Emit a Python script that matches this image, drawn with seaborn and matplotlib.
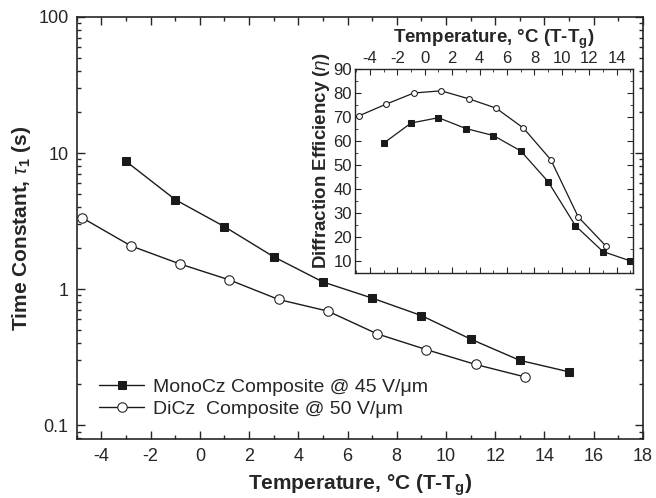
import matplotlib
matplotlib.use("Agg")
import matplotlib.pyplot as plt
import seaborn as sns
from matplotlib.ticker import MultipleLocator, LogLocator, FixedLocator, NullFormatter

# --- data ---
mono_t = [-3, -1, 1, 3, 5, 7, 9, 11, 13, 15]
mono_tau = [8.7, 4.55, 2.88, 1.73, 1.13, 0.86, 0.64, 0.43, 0.30, 0.247]
di_t = [-4.8, -2.8, -0.8, 1.2, 3.2, 5.2, 7.2, 9.2, 11.2, 13.2]
di_tau = [3.36, 2.08, 1.53, 1.17, 0.84, 0.69, 0.47, 0.36, 0.28, 0.227]

mono_eta_t = [-3, -1, 1, 3, 5, 7, 9, 11, 13, 15]
mono_eta = [59.0, 67.4, 69.6, 65.1, 62.2, 55.8, 43.0, 24.6, 13.9, 10.0]
di_eta_t = [-4.8, -2.8, -0.8, 1.2, 3.2, 5.2, 7.2, 9.2, 11.2, 13.2]
di_eta = [70.4, 75.3, 79.9, 80.8, 77.5, 73.6, 65.3, 52.1, 28.3, 16.3]

labels = ["MonoCz Composite @ 45 V/\u03bcm", "DiCz  Composite @ 50 V/\u03bcm"]

sns.set_style("ticks")
plt.rcParams["font.family"] = ["Liberation Sans", "DejaVu Sans"]
plt.rcParams["mathtext.fontset"] = "custom"
plt.rcParams["mathtext.rm"] = "Liberation Sans"
plt.rcParams["mathtext.it"] = "Liberation Sans:italic"
plt.rcParams["mathtext.bf"] = "Liberation Sans:bold"
plt.rcParams["axes.unicode_minus"] = False

fig = plt.figure(figsize=(6.56, 4.98), dpi=100)
ax = fig.add_axes([0.117, 0.118, 0.863, 0.848])

sq = dict(marker="s", markersize=6.3, markerfacecolor="#1a1a1a", markeredgecolor="#1a1a1a")
ci = dict(marker="o", markersize=6.8, markerfacecolor="white", markeredgecolor="#1a1a1a")

sns.lineplot(x=mono_t, y=mono_tau, ax=ax, color="#1a1a1a", lw=1, sort=False,
             label=labels[0], **sq)
sns.lineplot(x=di_t, y=di_tau, ax=ax, color="#1a1a1a", lw=1, sort=False,
             label=labels[1], **ci)

ax.set_yscale("log")
ax.set_xlim(-5, 18)
ax.set_ylim(0.079, 100)
ax.xaxis.set_major_locator(MultipleLocator(2))
ax.xaxis.set_minor_locator(MultipleLocator(1))
ax.yaxis.set_major_locator(FixedLocator([0.1, 1, 10, 100]))
ax.set_yticklabels(["0.1", "1", "10", "100"])
ax.yaxis.set_minor_locator(LogLocator(base=10, subs=range(2, 10)))
ax.yaxis.set_minor_formatter(NullFormatter())
ax.tick_params(which="both", direction="in", top=True, right=True, labelsize=13, width=1)
ax.tick_params(which="major", length=6, pad=6)
ax.tick_params(which="minor", length=3)
for s in ax.spines.values():
    s.set_linewidth(1.2)

ax.set_xlabel(r"Temperature, °C (T-T$_\mathbf{g}$)", fontsize=15, fontweight="bold", labelpad=6)
ax.set_ylabel(r"Time Constant, $\tau_\mathbf{1}$ (s)", fontsize=15, fontweight="bold", labelpad=4)

ax.legend(loc="lower left", bbox_to_anchor=(0.04, 0.05), frameon=False, fontsize=14,
          handlelength=2.3, labelspacing=0.25, handletextpad=0.45,
          borderpad=0, borderaxespad=0)

# --- inset ---
ins = fig.add_axes([0.541, 0.452, 0.424, 0.410])
sns.lineplot(x=mono_eta_t, y=mono_eta, ax=ins, color="#1a1a1a", lw=0.9, sort=False,
             marker="s", markersize=3.8, markerfacecolor="#1a1a1a", markeredgecolor="#1a1a1a")
sns.lineplot(x=di_eta_t, y=di_eta, ax=ins, color="#1a1a1a", lw=0.9, sort=False,
             marker="o", markersize=4.2, markerfacecolor="white", markeredgecolor="#1a1a1a")
ins.set_xlim(-5.1, 15.2)
ins.set_ylim(5, 90)
ins.xaxis.set_major_locator(MultipleLocator(2))
ins.xaxis.set_minor_locator(MultipleLocator(1))
ins.yaxis.set_major_locator(MultipleLocator(10))
ins.yaxis.set_minor_locator(MultipleLocator(5))
ins.xaxis.set_ticks(range(-4, 16, 2))
ins.tick_params(which="both", direction="in", top=True, right=True, bottom=True,
                labeltop=True, labelbottom=False, labelsize=12, pad=2)
ins.tick_params(which="major", length=4)
ins.tick_params(which="minor", length=2)
ins.xaxis.set_label_position("top")
ins.set_xlabel(r"Temperature, °C (T-T$_\mathbf{g}$)", fontsize=13.5, fontweight="bold", labelpad=6)
ins.set_ylabel(r"Diffraction Efficiency ($\eta$)", fontsize=13.5, fontweight="bold", labelpad=1)
ins.yaxis.label.set_y(0.55)
for s in ins.spines.values():
    s.set_linewidth(1.0)

fig.savefig("out.png", dpi=100)
